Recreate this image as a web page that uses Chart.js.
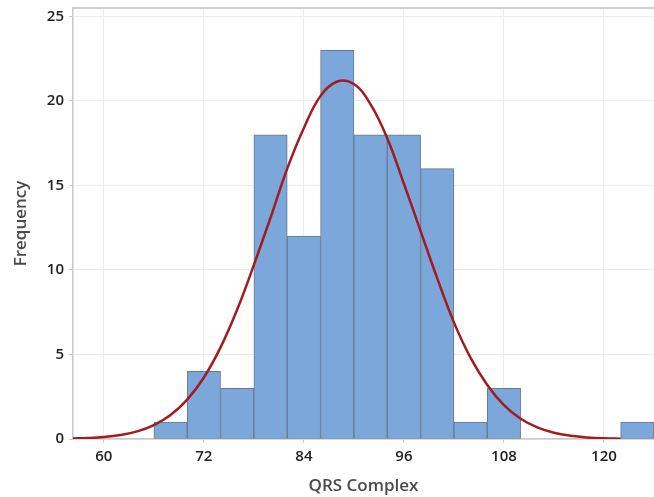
<!DOCTYPE html>
<html>
<head>
<meta charset="utf-8">
<script src="https://cdn.jsdelivr.net/npm/chart.js@4/dist/chart.umd.min.js"></script>
<style>
  html, body { margin: 0; padding: 0; background: #fff; }
  #hist { display: block; }
</style>
</head>
<body>
<canvas id="hist" width="654" height="497"></canvas>
<script>
// histogram bins (width 4), centres and counts
const binCenters = [68, 72, 76, 80, 84, 88, 92, 96, 100, 104, 108, 124];
const counts = [1, 4, 3, 18, 12, 23, 18, 18, 16, 1, 3, 1];

// fitted normal curve
const curveX = [56, 58, 60, 62, 64, 66, 68, 70, 72, 74, 76, 78, 80, 82, 84, 86, 88, 90, 92, 94, 96, 98, 100, 102, 104, 106, 108, 110, 112, 114, 116, 118, 120, 122];
const curveY = [0.03, 0.06, 0.12, 0.24, 0.45, 0.82, 1.42, 2.33, 3.64, 5.42, 7.66, 10.3, 13.1, 16.0, 18.4, 20.3, 21.15, 21.0, 19.8, 17.8, 15.1, 12.3, 9.5, 6.9, 4.8, 3.2, 2.0, 1.2, 0.69, 0.37, 0.19, 0.09, 0.04, 0.02];

const xTicks = [60, 72, 84, 96, 108, 120];
const yTicks = [0, 5, 10, 15, 20, 25];

const tickFont = { family: "'Open Sans', 'Noto Sans', sans-serif", size: 15, weight: '600' };
const titleFont = { family: "'Open Sans', 'Noto Sans', sans-serif", size: 17, weight: '600' };

const topFrame = {
    id: 'topFrame',
    afterDatasetsDraw(chart) {
        const { ctx, chartArea } = chart;
        ctx.save();
        ctx.strokeStyle = '#cfcfcf';
        ctx.lineWidth = 2;
        ctx.beginPath();
        ctx.moveTo(chartArea.left, chartArea.top);
        ctx.lineTo(chartArea.right, chartArea.top);
        ctx.stroke();
        ctx.restore();
    }
};

const ctx = document.getElementById('hist').getContext('2d');

new Chart(ctx, {
    data: {
        datasets: [
            {
                type: 'line',
                data: curveX.map((x, i) => ({ x: x, y: curveY[i] })),
                borderColor: '#a11b1f',
                borderWidth: 2.5,
                pointRadius: 0,
                tension: 0.4,
                fill: false,
                order: 0
            },
            {
                type: 'bar',
                data: binCenters.map((x, i) => ({ x: x, y: counts[i] })),
                backgroundColor: '#7ba7da',
                borderColor: '#667b91',
                borderWidth: 1,
                borderSkipped: false,
                barPercentage: 1,
                categoryPercentage: 1,
                grouped: false,
                order: 1
            }
        ]
    },
    options: {
        responsive: false,
        animation: false,
        devicePixelRatio: 1,
        layout: { padding: { top: 8, right: 0, bottom: 0, left: 0 } },
        plugins: {
            legend: { display: false },
            tooltip: { enabled: false }
        },
        scales: {
            x: {
                type: 'linear',
                offset: false,
                min: 56.3,
                max: 126,
                afterBuildTicks: (scale) => { scale.ticks = xTicks.map(v => ({ value: v })); },
                afterFit: (scale) => { scale.height = 58; scale.paddingRight = 0; },
                ticks: { font: tickFont, color: '#222', padding: 5, maxRotation: 0 },
                grid: { offset: false, color: '#ebebeb', tickLength: 4, tickColor: '#c8c8c8' },
                border: { color: '#c8c8c8', width: 1.5 },
                title: {
                    display: true,
                    text: 'QRS Complex',
                    font: titleFont,
                    color: '#4a4a4a',
                    padding: { top: 0, bottom: 1 }
                }
            },
            y: {
                min: 0,
                max: 25.5,
                afterBuildTicks: (scale) => { scale.ticks = yTicks.map(v => ({ value: v })); },
                afterFit: (scale) => { scale.width = 73; scale.paddingTop = 0; scale.paddingBottom = 0; },
                ticks: { font: tickFont, color: '#222', padding: 5 },
                grid: { color: '#ebebeb', tickLength: 4, tickColor: '#c8c8c8' },
                border: { color: '#c8c8c8', width: 1.5 },
                title: {
                    display: true,
                    text: 'Frequency',
                    font: titleFont,
                    color: '#4a4a4a',
                    padding: { top: 11, bottom: 0 }
                }
            }
        }
    },
    plugins: [topFrame]
});
</script>
</body>
</html>
